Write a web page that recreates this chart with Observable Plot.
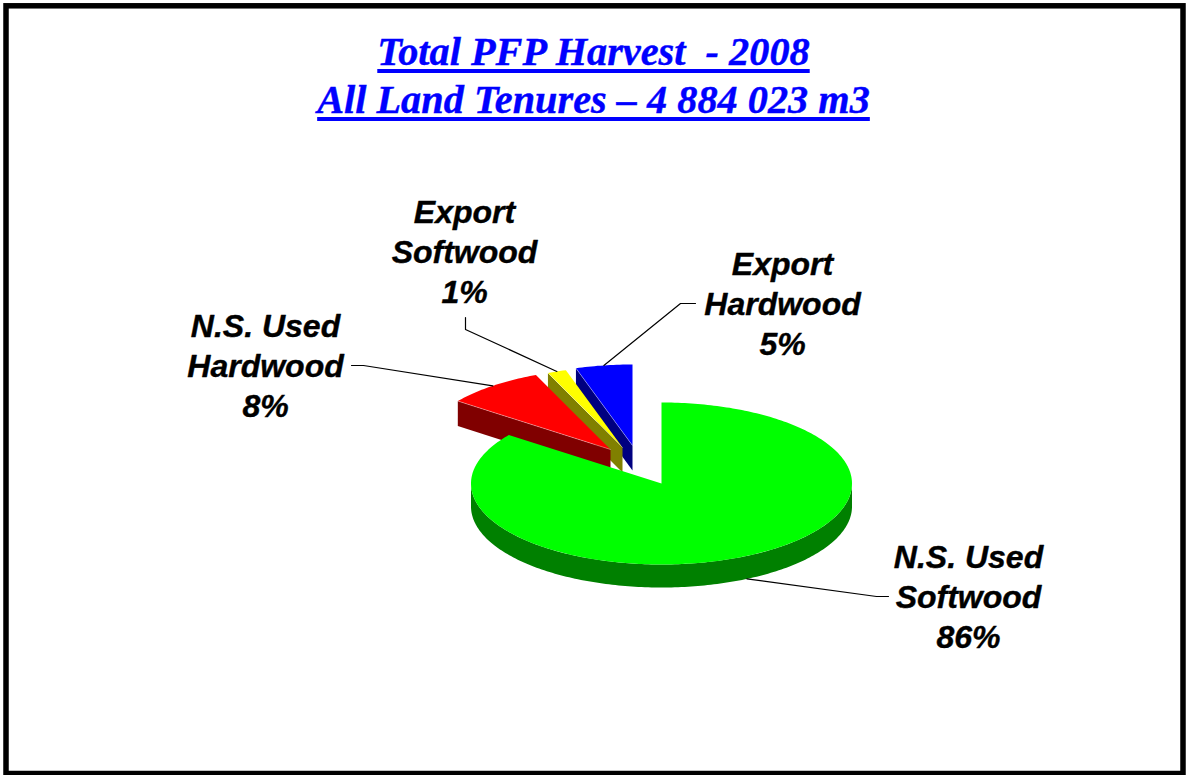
<!DOCTYPE html>
<html>
<head>
<meta charset="utf-8">
<script src="https://cdn.jsdelivr.net/npm/d3@7"></script>
<script src="https://cdn.jsdelivr.net/npm/@observablehq/plot@0.6"></script>
<style>
html,body{margin:0;padding:0;background:#fff;overflow:hidden;width:1187px;height:775px}
#wrap{position:relative;width:1187px;height:775px}
#title{position:absolute;left:0;top:28px;width:1187px;text-align:center;white-space:pre;
 font:italic bold 40.3px/48px "Liberation Serif",serif;color:#0000ff;z-index:2;-webkit-text-stroke:0.4px #0000ff}
#title div{text-decoration:underline;text-decoration-thickness:3.5px;text-underline-offset:4px;text-decoration-skip-ink:none}
svg{display:block}
</style>
</head>
<body>
<div id="wrap">
<div id="title"><div>Total PFP Harvest  - 2008</div><div>All Land Tenures – 4 884 023 m3</div></div>
</div>
<script>
// Values (shares in percent, clockwise from 12 o'clock)
const sliceNames = ["N.S. Used Softwood", "N.S. Used Hardwood", "Export Softwood", "Export Hardwood"];
const sliceShares = [85.2, 8.4, 1.6, 4.8];
const percentLabels = ["86%", "8%", "1%", "5%"];
const labelLines = [["N.S. Used", "Softwood"], ["N.S. Used", "Hardwood"], ["Export", "Softwood"], ["Export", "Hardwood"]];

// Styles and layout
const topColors = ["#00ff00", "#ff0000", "#ffff00", "#0000ff"];
const sideColors = ["#008000", "#800000", "#808000", "#000080"];
const offsetX = [0, -51, -39, -29];
const offsetY = [0, -34, -36, -38];
const labelX = [968, 265, 464, 782];
const labelY = [594.5, 363.5, 249.5, 301.5];
const elbowX = [876, 363, 465, 680];
const elbowY = [596, 365, 329, 303];
const tipX = [888, 351, 465, 695];
const tipY = [596, 365, 317, 303];
const cx = 661, cy = 483, rx = 190.5, ry = 81, depth = 23;

const pt = (i, deg, dz = 0) => {
  const a = deg * Math.PI / 180;
  return {x: cx + offsetX[i] + rx * Math.sin(a), y: cy + offsetY[i] - ry * Math.cos(a) + dz};
};
const centre = (i, dz = 0) => ({x: cx + offsetX[i], y: cy + offsetY[i] + dz});
const arc = (i, a0, a1, dz = 0) => {
  const n = Math.max(2, Math.ceil(Math.abs(a1 - a0)));
  return d3.range(n + 1).map(k => pt(i, a0 + (a1 - a0) * k / n, dz));
};

let acc = 0;
const spans = sliceShares.map(v => { const s = [acc * 3.6, (acc + v) * 3.6]; acc += v; return s; });

const shape = (pts, fill) => Plot.line(pts, {x: "x", y: "y", fill, stroke: "none", curve: "linear"});
const marks = [];

// back to front: blue, yellow, red, green
[3, 2, 1].forEach(i => {
  const [a0, a1] = spans[i];
  marks.push(shape([pt(i, a0), centre(i), centre(i, depth + 2), pt(i, a0, depth + 2)], sideColors[i]));
  marks.push(shape([centre(i), ...arc(i, a0, a1)], topColors[i]));
  marks.push(Plot.line([pt(i, a0), centre(i)], {x: "x", y: "y", stroke: "#fff", strokeOpacity: 0.45, strokeWidth: 0.8}));
});
// main slice: rim only along the visible front half
marks.push(shape([...arc(0, 90, 270), ...arc(0, 270, 90, depth)], sideColors[0]));
marks.push(shape([centre(0), ...arc(0, spans[0][0], spans[0][1])], topColors[0]));

// leader lines start on each slice's outer arc, at its mid angle
sliceNames.forEach((_, i) => {
  const mid = (spans[i][0] + spans[i][1]) / 2;
  const start = pt(i, mid, i === 0 ? depth : 0);
  marks.push(Plot.line([start, {x: elbowX[i], y: elbowY[i]}, {x: tipX[i], y: tipY[i]}],
    {x: "x", y: "y", stroke: "#000", strokeWidth: 1.2}));
});

// labels
const labels = sliceNames.map((name, i) => ({
  x: labelX[i], y: labelY[i], text: [...labelLines[i], percentLabels[i]].join("\n")
}));
marks.push(Plot.text(labels, {
  x: "x", y: "y", text: "text", lineHeight: 1.25, fontSize: 32, fontWeight: "bold",
  fontStyle: "italic", fontFamily: "Liberation Sans", fill: "#000", textAnchor: "middle",
  stroke: "#000", strokeWidth: 0.4
}));

// outer frame
marks.push(Plot.frame({stroke: "#000", strokeWidth: 5.5, insetLeft: 5.5, insetRight: 4.5, insetTop: 5.3, insetBottom: 2}));

const chart = Plot.plot({
  width: 1187, height: 775, margin: 0,
  x: {domain: [0, 1187], range: [0, 1187], axis: null},
  y: {domain: [0, 775], range: [0, 775], axis: null},
  style: {background: "#fff"},
  marks
});
document.getElementById("wrap").appendChild(chart);
</script>
</body>
</html>
